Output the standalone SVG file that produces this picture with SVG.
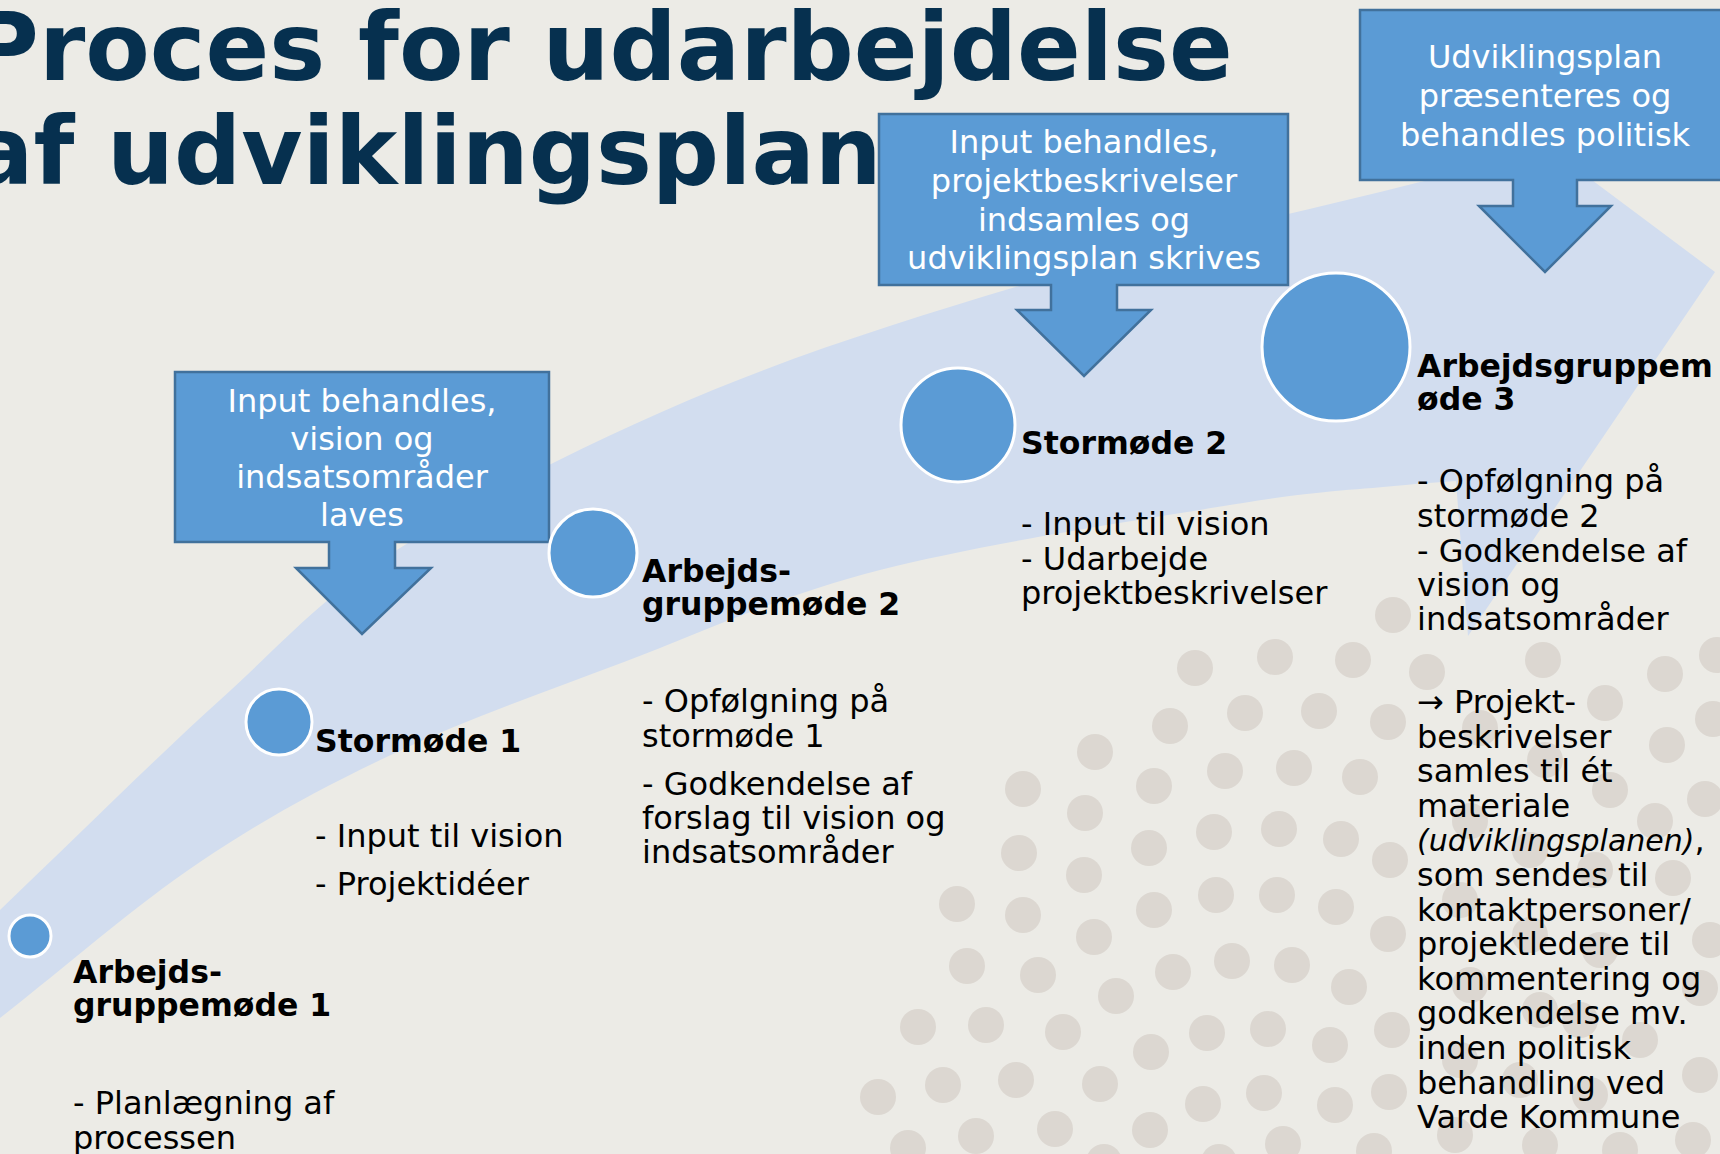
<svg xmlns="http://www.w3.org/2000/svg" width="1720" height="1154" viewBox="0 0 1720 1154">
<style>
.bg{fill:#ECEBE6}
.dot{fill:#DCD7D1}
.band{fill:#D2DDEF}
.call{fill:#5B9BD5;stroke:#41719C;stroke-width:2.5}
.node{fill:#5B9BD5;stroke:#FFFFFF;stroke-width:3}
.title{font-family:"DejaVu Sans",Verdana,sans-serif;font-weight:bold;font-size:94px;fill:#06304F}
.ct{font-family:"DejaVu Sans",Verdana,sans-serif;font-size:32px;fill:#FFFFFF;text-anchor:middle}
.lbl{font-family:"DejaVu Sans",Verdana,sans-serif;font-size:31.5px;font-weight:bold;fill:#000000}
.txt{font-family:"DejaVu Sans",Verdana,sans-serif;font-size:32px;fill:#000000}
.it{font-style:italic;font-size:30px}
</style>
<defs>
<circle id="d" r="18"/>
</defs>
<rect class="bg" x="0" y="0" width="1720" height="1154"/>
<g id="dots" class="dot">
<use href="#d" x="1195" y="668"/><use href="#d" x="1275" y="657"/><use href="#d" x="1353" y="660"/><use href="#d" x="1393" y="615"/>
<use href="#d" x="1170" y="726"/><use href="#d" x="1245" y="713"/><use href="#d" x="1319" y="711"/><use href="#d" x="1388" y="722"/>
<use href="#d" x="1095" y="752"/><use href="#d" x="1154" y="786"/><use href="#d" x="1225" y="771"/><use href="#d" x="1294" y="768"/><use href="#d" x="1360" y="777"/>
<use href="#d" x="1023" y="789"/><use href="#d" x="1085" y="813"/><use href="#d" x="1019" y="853"/><use href="#d" x="1149" y="848"/><use href="#d" x="1214" y="832"/><use href="#d" x="1279" y="829"/><use href="#d" x="1341" y="839"/><use href="#d" x="1390" y="860"/>
<use href="#d" x="1084" y="875"/><use href="#d" x="957" y="904"/><use href="#d" x="1023" y="915"/><use href="#d" x="1154" y="910"/><use href="#d" x="1216" y="895"/><use href="#d" x="1277" y="895"/><use href="#d" x="1336" y="907"/>
<use href="#d" x="1094" y="937"/><use href="#d" x="1388" y="934"/><use href="#d" x="967" y="966"/><use href="#d" x="1038" y="975"/><use href="#d" x="1173" y="972"/><use href="#d" x="1232" y="961"/><use href="#d" x="1292" y="965"/><use href="#d" x="1349" y="987"/>
<use href="#d" x="1116" y="996"/><use href="#d" x="918" y="1027"/><use href="#d" x="986" y="1025"/><use href="#d" x="1063" y="1032"/><use href="#d" x="1151" y="1052"/><use href="#d" x="1207" y="1033"/><use href="#d" x="1268" y="1029"/><use href="#d" x="1330" y="1045"/><use href="#d" x="1392" y="1030"/>
<use href="#d" x="878" y="1097"/><use href="#d" x="943" y="1085"/><use href="#d" x="1016" y="1080"/><use href="#d" x="1100" y="1084"/><use href="#d" x="1203" y="1104"/><use href="#d" x="1264" y="1093"/><use href="#d" x="1335" y="1105"/><use href="#d" x="1389" y="1092"/>
<use href="#d" x="908" y="1148"/><use href="#d" x="976" y="1136"/><use href="#d" x="1055" y="1129"/><use href="#d" x="1150" y="1130"/><use href="#d" x="1283" y="1144"/><use href="#d" x="1374" y="1151"/><use href="#d" x="1104" y="1162"/><use href="#d" x="1219" y="1162"/>
<use href="#d" x="1543" y="660"/><use href="#d" x="1427" y="672"/><use href="#d" x="1665" y="674"/><use href="#d" x="1717" y="655"/><use href="#d" x="1605" y="703"/><use href="#d" x="1713" y="719"/><use href="#d" x="1667" y="745"/><use href="#d" x="1480" y="728"/>
<use href="#d" x="1545" y="760"/><use href="#d" x="1610" y="790"/><use href="#d" x="1705" y="799"/><use href="#d" x="1655" y="821"/><use href="#d" x="1470" y="821"/><use href="#d" x="1530" y="850"/><use href="#d" x="1595" y="870"/><use href="#d" x="1673" y="878"/>
<use href="#d" x="1460" y="900"/><use href="#d" x="1530" y="935"/><use href="#d" x="1600" y="950"/><use href="#d" x="1710" y="940"/><use href="#d" x="1470" y="985"/><use href="#d" x="1540" y="1010"/><use href="#d" x="1700" y="988"/><use href="#d" x="1580" y="1020"/>
<use href="#d" x="1640" y="1040"/><use href="#d" x="1460" y="1060"/><use href="#d" x="1520" y="1080"/><use href="#d" x="1590" y="1095"/><use href="#d" x="1700" y="1075"/><use href="#d" x="1455" y="1135"/><use href="#d" x="1540" y="1145"/><use href="#d" x="1620" y="1150"/><use href="#d" x="1693" y="1140"/>
</g>
<g id="connectors">
<path class="band" d="M0,910 C73.3,840 153.3,760.3 220,700 C286.7,639.7 317.8,599.7 400,548 C482.2,496.3 599.7,436.7 713,390 C826.3,343.3 962.2,302.7 1080,268 C1197.8,233.3 1306.7,210.7 1420,182 L1450,176 L1478,95 L1715,272 L1468,636 L1456,481 L1415,484 C1357.7,490.3 1332.2,488.7 1243,503 C1153.8,517.3 983.2,543.5 880,570 C776.8,596.5 704.8,631.5 624,662 C543.2,692.5 465.7,719.7 395,753 C324.3,786.3 265.8,817.8 200,862 C134.2,906.2 66.7,966 0,1018 Z"/>
</g>
<g id="title" class="title">
<text x="-30" y="80">Proces for udarbejdelse</text>
<text x="-30" y="184">af udviklingsplan</text>
</g>
<g id="callout1">
<path class="call" d="M175,372 H549 V542 H395 V568 H431 L362,634 L296,568 H329 V542 H175 Z"/>
<text class="ct" x="362" y="412">Input behandles,</text>
<text class="ct" x="362" y="450">vision og</text>
<text class="ct" x="362" y="488">indsatsområder</text>
<text class="ct" x="362" y="526">laves</text>
</g>
<g id="callout2">
<path class="call" d="M879,114 H1288 V285 H1117 V310 H1151 L1084,376 L1017,310 H1051 V285 H879 Z"/>
<text class="ct" x="1084" y="153">Input behandles,</text>
<text class="ct" x="1084" y="192">projektbeskrivelser</text>
<text class="ct" x="1084" y="231">indsamles og</text>
<text class="ct" x="1084" y="269">udviklingsplan skrives</text>
</g>
<g id="callout3">
<path class="call" d="M1360,10 H1730 V180 H1577 V206 H1611 L1545,272 L1479,206 H1513 V180 H1360 Z"/>
<text class="ct" x="1545" y="68">Udviklingsplan</text>
<text class="ct" x="1545" y="107">præsenteres og</text>
<text class="ct" x="1545" y="146">behandles politisk</text>
</g>
<g id="node1">
<circle class="node" cx="30" cy="936" r="21"/>
<text class="lbl" x="73" y="983">Arbejds-</text>
<text class="lbl" x="73" y="1016">gruppemøde 1</text>
<text class="txt" x="73" y="1114">- Planlægning af</text>
<text class="txt" x="73" y="1149">processen</text>
</g>
<g id="node2">
<circle class="node" cx="279" cy="722" r="33"/>
<text class="lbl" x="315" y="752">Stormøde 1</text>
<text class="txt" x="315" y="847">- Input til vision</text>
<text class="txt" x="315" y="895">- Projektidéer</text>
</g>
<g id="node3">
<circle class="node" cx="593" cy="553" r="44"/>
<text class="lbl" x="642" y="582">Arbejds-</text>
<text class="lbl" x="642" y="615">gruppemøde 2</text>
<text class="txt" x="642" y="712">- Opfølgning på</text>
<text class="txt" x="642" y="747">stormøde 1</text>
<text class="txt" x="642" y="795">- Godkendelse af</text>
<text class="txt" x="642" y="829">forslag til vision og</text>
<text class="txt" x="642" y="863">indsatsområder</text>
</g>
<g id="node4">
<circle class="node" cx="958" cy="425" r="57"/>
<text class="lbl" x="1021" y="454">Stormøde 2</text>
<text class="txt" x="1021" y="535">- Input til vision</text>
<text class="txt" x="1021" y="570">- Udarbejde</text>
<text class="txt" x="1021" y="604">projektbeskrivelser</text>
</g>
<g id="node5">
<circle class="node" cx="1336" cy="347" r="74"/>
<text class="lbl" x="1417" y="377">Arbejdsgruppem</text>
<text class="lbl" x="1417" y="410">øde 3</text>
<text class="txt" x="1417" y="492">- Opfølgning på</text>
<text class="txt" x="1417" y="527">stormøde 2</text>
<text class="txt" x="1417" y="562">- Godkendelse af</text>
<text class="txt" x="1417" y="596">vision og</text>
<text class="txt" x="1417" y="630">indsatsområder</text>
<text class="txt" x="1417" y="713">→ Projekt-</text>
<text class="txt" x="1417" y="748">beskrivelser</text>
<text class="txt" x="1417" y="782">samles til ét</text>
<text class="txt" x="1417" y="817">materiale</text>
<text class="txt" x="1417" y="851"><tspan class="it">(udviklingsplanen)</tspan>,</text>
<text class="txt" x="1417" y="886">som sendes til</text>
<text class="txt" x="1417" y="921">kontaktpersoner/</text>
<text class="txt" x="1417" y="955">projektledere til</text>
<text class="txt" x="1417" y="990">kommentering og</text>
<text class="txt" x="1417" y="1024">godkendelse mv.</text>
<text class="txt" x="1417" y="1059">inden politisk</text>
<text class="txt" x="1417" y="1094">behandling ved</text>
<text class="txt" x="1417" y="1128">Varde Kommune</text>
</g>
</svg>
